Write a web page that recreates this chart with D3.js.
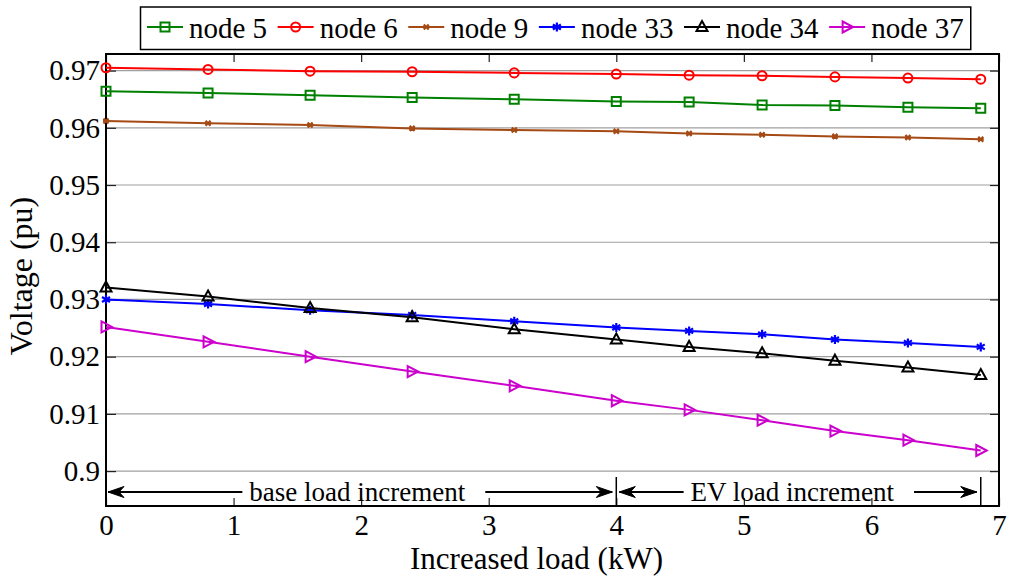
<!DOCTYPE html>
<html><head><meta charset="utf-8">
<script src="https://cdn.jsdelivr.net/npm/d3@7"></script>
<style>
html,body{margin:0;padding:0;background:#fff;}
svg{display:block;font-family:"Liberation Serif","Times New Roman",serif;}
</style></head>
<body><svg id="chart" width="1010" height="576"></svg>
<script>
// ---- data ----
const xLoad = [0, 0.8, 1.6, 2.4, 3.2, 4.0, 4.571, 5.143, 5.714, 6.286, 6.857];
const node5  = [0.9664, 0.9661, 0.9657, 0.9653, 0.9650, 0.9646, 0.9645, 0.9640, 0.9639, 0.9636, 0.9634];
const node6  = [0.9705, 0.9702, 0.9699, 0.9698, 0.9696, 0.9694, 0.9692, 0.9691, 0.9689, 0.9687, 0.9685];
const node9  = [0.9612, 0.9608, 0.9605, 0.9599, 0.9596, 0.9594, 0.9590, 0.9588, 0.9585, 0.9583, 0.9580];
const node33 = [0.9300, 0.9292, 0.9281, 0.9273, 0.9262, 0.9251, 0.9245, 0.9239, 0.9230, 0.9224, 0.9217];
const node34 = [0.9321, 0.9305, 0.9285, 0.9269, 0.9248, 0.9230, 0.9217, 0.9206, 0.9193, 0.9181, 0.9168];
const node37 = [0.9252, 0.9226, 0.9200, 0.9174, 0.9149, 0.9123, 0.9107, 0.9089, 0.9070, 0.9054, 0.9036];
const seriesNames = ["node 5", "node 6", "node 9", "node 33", "node 34", "node 37"];
const xTicks = [0, 1, 2, 3, 4, 5, 6, 7];
const yTicks = [0.9, 0.91, 0.92, 0.93, 0.94, 0.95, 0.96, 0.97];
const yTickLabels = ["0.9", "0.91", "0.92", "0.93", "0.94", "0.95", "0.96", "0.97"];
const annotations = [
  {label: "base load increment", from: 0, to: 4, center: 1.97},
  {label: "EV load increment", from: 4, to: 6.857, center: 5.38}
];

// ---- styles ----
const styles = [
  {color: "#008000", marker: "square"},
  {color: "#ff0000", marker: "circle"},
  {color: "#a54a14", marker: "times"},
  {color: "#0000ff", marker: "star"},
  {color: "#000000", marker: "triUp"},
  {color: "#cc00cc", marker: "triRight"}
];
const allSeries = [node5, node6, node9, node33, node34, node37];

const svg = d3.select("#chart");
const L = 106, R = 999, T = 54, B = 506;
const x = d3.scaleLinear().domain([0, 7]).range([L, R]);
const y = d3.scaleLinear().domain([0.8939, 0.9729]).range([B, T]);

// gridlines
svg.append("g").selectAll("line").data(yTicks).join("line")
  .attr("x1", L).attr("x2", R).attr("y1", d => y(d)).attr("y2", d => y(d))
  .attr("stroke", "#a0a0a0").attr("stroke-width", 1.2);

// axes
const fmtY = d => yTickLabels[yTicks.indexOf(d)];
const axL = svg.append("g").attr("transform", `translate(${L},0)`)
  .call(d3.axisLeft(y).tickValues(yTicks).tickFormat(fmtY).tickSizeInner(-10).tickSizeOuter(0).tickPadding(6));
const axR = svg.append("g").attr("transform", `translate(${R},0)`)
  .call(d3.axisRight(y).tickValues(yTicks).tickFormat("").tickSizeInner(-9).tickSizeOuter(0));
const axB = svg.append("g").attr("transform", `translate(0,${B})`)
  .call(d3.axisBottom(x).tickValues(xTicks).tickFormat(d3.format("d")).tickSizeInner(-8).tickSizeOuter(0).tickPadding(8));
const axT = svg.append("g").attr("transform", `translate(0,${T})`)
  .call(d3.axisTop(x).tickValues(xTicks).tickFormat("").tickSizeInner(-8).tickSizeOuter(0));
[axL, axR, axB, axT].forEach(g => {
  g.select(".domain").remove();
  g.selectAll(".tick line").attr("stroke", "#222").attr("stroke-width", 1.2);
  g.selectAll("text").attr("font-family", "Liberation Serif").attr("font-size", 29).attr("fill", "#000");
});
axB.selectAll(".tick text").attr("dy", "0.71em");
// box
svg.append("rect").attr("x", L).attr("y", T).attr("width", R - L).attr("height", B - T)
  .attr("fill", "none").attr("stroke", "#000").attr("stroke-width", 2);

// marker drawing
function marker(g, type, color) {
  const s = g.append("path").attr("fill", "none").attr("stroke", color).attr("stroke-width", 2);
  if (type === "square") s.attr("d", "M-4.5,-4.5H4.5V4.5H-4.5Z");
  else if (type === "circle") s.attr("d", d3.symbol(d3.symbolCircle, 64)());
  else if (type === "times") s.attr("d", "M-2.5,-2.5L2.5,2.5M-2.5,2.5L2.5,-2.5M-3,0H3").attr("stroke-width", 2.2);
  else if (type === "star") s.attr("d", "M0,-4.5V4.5M-4,-2.5L4,2.5M-4,2.5L4,-2.5").attr("stroke-width", 2.2);
  else if (type === "triUp") s.attr("d", "M0,-6L5.5,4H-5.5Z");
  else if (type === "triRight") s.attr("d", "M-4.5,-5.5L6,0L-4.5,5.5Z");
}

// lines
const line = d3.line().x((d, i) => x(xLoad[i])).y(d => y(d));
allSeries.forEach((vals, k) => {
  const st = styles[k];
  const g = svg.append("g");
  g.append("path").attr("d", line(vals)).attr("fill", "none").attr("stroke", st.color).attr("stroke-width", 2);
  vals.forEach((v, i) => {
    const m = g.append("g").attr("transform", `translate(${x(xLoad[i])},${y(v)})`);
    marker(m, st.marker, st.color);
  });
});

// annotations
const annY = 492;
function arrow(x1, x2) {
  svg.append("line").attr("x1", x1).attr("x2", x2).attr("y1", annY).attr("y2", annY)
    .attr("stroke", "#000").attr("stroke-width", 2);
  const dir = x2 > x1 ? 1 : -1;
  svg.append("path")
    .attr("d", `M${x2},${annY}L${x2 - dir * 16},${annY - 5.5}L${x2 - dir * 11},${annY}L${x2 - dir * 16},${annY + 5.5}Z`)
    .attr("fill", "#000").attr("stroke", "#000").attr("stroke-width", 1);
}
annotations.forEach((a, i) => {
  const t = svg.append("text").attr("x", x(a.center)).attr("y", 501)
    .attr("text-anchor", "middle").attr("font-size", 27).text(a.label);
  const w = t.node().getComputedTextLength();
  const left = x(a.center) - w / 2, right = x(a.center) + w / 2;
  const xa = x(a.from) + (i === 0 ? 2 : 3), xb = x(a.to) - 4;
  arrow(left - 7, xa);
  arrow(right + 20, xb);
});
// separators
[4, 6.857].forEach(v => {
  svg.append("line").attr("x1", x(v)).attr("x2", x(v)).attr("y1", 477).attr("y2", B)
    .attr("stroke", "#000").attr("stroke-width", 1.5);
});

// axis titles
svg.append("text").attr("x", (L + R) / 2 - 16).attr("y", 569).attr("text-anchor", "middle")
  .attr("font-size", 31).text("Increased load (kW)");
svg.append("text").attr("transform", "translate(32,276) rotate(-90)").attr("text-anchor", "middle")
  .attr("font-size", 32).text("Voltage (pu)");

// legend
const lg = svg.append("g");
const box = lg.append("rect").attr("x", 140.5).attr("y", 7).attr("height", 42.5).attr("fill", "#fff")
  .attr("stroke", "#000").attr("stroke-width", 1.5);
let cx = 147;
seriesNames.forEach((n, k) => {
  const st = styles[k];
  lg.append("line").attr("x1", cx).attr("x2", cx + 36).attr("y1", 27).attr("y2", 27)
    .attr("stroke", st.color).attr("stroke-width", 2);
  const m = lg.append("g").attr("transform", `translate(${cx + 18},27)`);
  marker(m, st.marker, st.color);
  const t = lg.append("text").attr("x", cx + 42).attr("y", 38).attr("font-size", 29).text(n);
  cx += 42 + t.node().getComputedTextLength() + 10.5;
});
box.attr("width", cx - 10.5 + 7 - 140.5);
</script></body></html>
